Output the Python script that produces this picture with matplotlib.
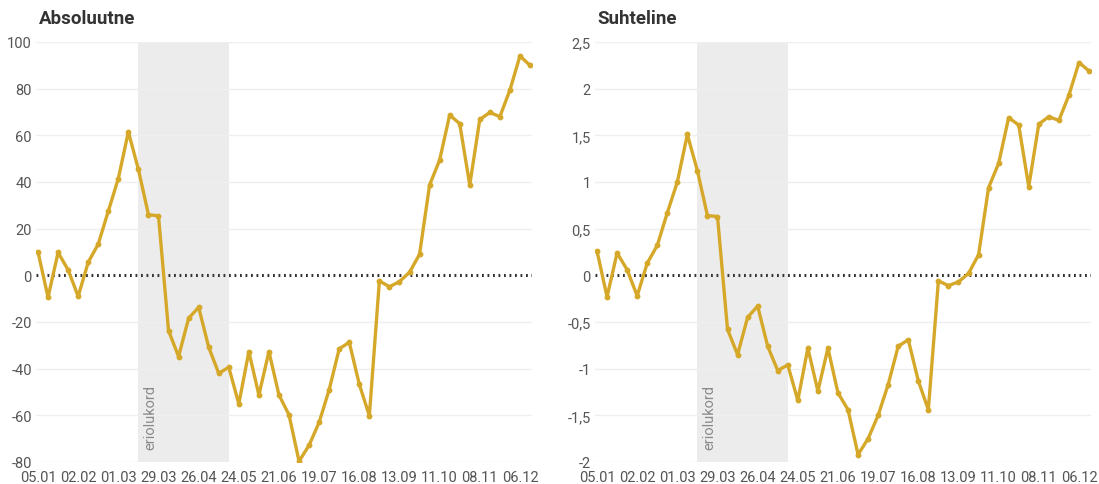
import matplotlib
matplotlib.use('Agg')
import matplotlib.pyplot as plt
import numpy as np

plt.rcParams['font.family'] = ['Roboto', 'DejaVu Sans']

# weekly values, 05.01 .. 13.12
absoluutne = [10, -9.4, 9.8, 2.3, -9, 5.6, 13.4, 27.5, 41.5, 61.5,
              45.4, 26, 25.5, -23.7, -34.8, -18.4, -13.7, -30.8, -42, -39.4,
              -55.1, -32.7, -51.3, -32.7, -51.3, -59.8, -79.7, -72.8, -63, -49,
              -31.5, -28.7, -46.7, -60.2, -2.4, -4.9, -2.7, 1.3, 9, 38.7,
              49.4, 68.7, 65, 38.7, 66.8, 69.8, 68, 79.4, 94, 90]
suhteline = [0.26, -0.23, 0.24, 0.06, -0.22, 0.13, 0.32, 0.67, 1.0, 1.51,
             1.12, 0.64, 0.63, -0.58, -0.85, -0.45, -0.33, -0.76, -1.02, -0.96,
             -1.34, -0.78, -1.24, -0.78, -1.26, -1.44, -1.92, -1.75, -1.50, -1.17,
             -0.76, -0.69, -1.13, -1.44, -0.06, -0.11, -0.07, 0.02, 0.22, 0.94,
             1.2, 1.69, 1.61, 0.95, 1.62, 1.70, 1.66, 1.93, 2.28, 2.19]

week_labels = ['05.01', '02.02', '01.03', '29.03', '26.04', '24.05', '21.06',
               '19.07', '16.08', '13.09', '11.10', '08.11', '06.12']
week_ticks = [0, 4, 8, 12, 16, 20, 24, 28, 32, 36, 40, 44, 48]

eriolukord = (10, 19)  # weeks covered by emergency situation

abs_ticks = [-80, -60, -40, -20, 0, 20, 40, 60, 80, 100]
rel_ticks = [-2, -1.5, -1, -0.5, 0, 0.5, 1, 1.5, 2, 2.5]

line_col = '#d6a82a'
txt_col = '#555555'


def draw_panel(ax, values, yticks, title):
    x = np.arange(len(values))
    ax.axvspan(eriolukord[0], eriolukord[1], color='#ececec', lw=0, zorder=0)
    for t in yticks:
        if t != 0:
            ax.axhline(t, color='#efefef', lw=1, zorder=1)
    ax.axhline(0, color='#333333', lw=2.2, linestyle=(0, (0.6, 1.2)), zorder=2)
    ax.plot(x, values, color=line_col, lw=2.4, marker='o', markersize=3.2,
            zorder=3)
    ax.set_xlim(-0.2, 49.2)
    ax.set_ylim(yticks[0], yticks[-1])
    ax.set_yticks(yticks)
    ax.set_yticklabels([('%g' % t).replace('.', ',') for t in yticks])
    ax.set_xticks(week_ticks)
    ax.set_xticklabels(week_labels)
    ax.tick_params(length=0, labelsize=10.5, labelcolor=txt_col, pad=3)
    ax.tick_params(axis='x', pad=6)
    for s in ax.spines.values():
        s.set_visible(False)
    span = yticks[-1] - yticks[0]
    ax.text(11.2, yticks[0] + span * 0.03, 'eriolukord', rotation=90,
            ha='center', va='bottom', color='#8a8a8a', fontsize=10.5)
    ax.text(0.005, 1.035, title, transform=ax.transAxes, ha='left',
            va='bottom', fontsize=13.5, fontweight='bold', color='#333333')


fig = plt.figure(figsize=(10.99, 4.85), dpi=100)
ax1 = fig.add_axes([36 / 1099, 22 / 485, 496 / 1099, 420 / 485])
ax2 = fig.add_axes([595 / 1099, 22 / 485, 496 / 1099, 420 / 485])
draw_panel(ax1, absoluutne, abs_ticks, 'Absoluutne')
draw_panel(ax2, suhteline, rel_ticks, 'Suhteline')

fig.savefig('out.png', dpi=100)
